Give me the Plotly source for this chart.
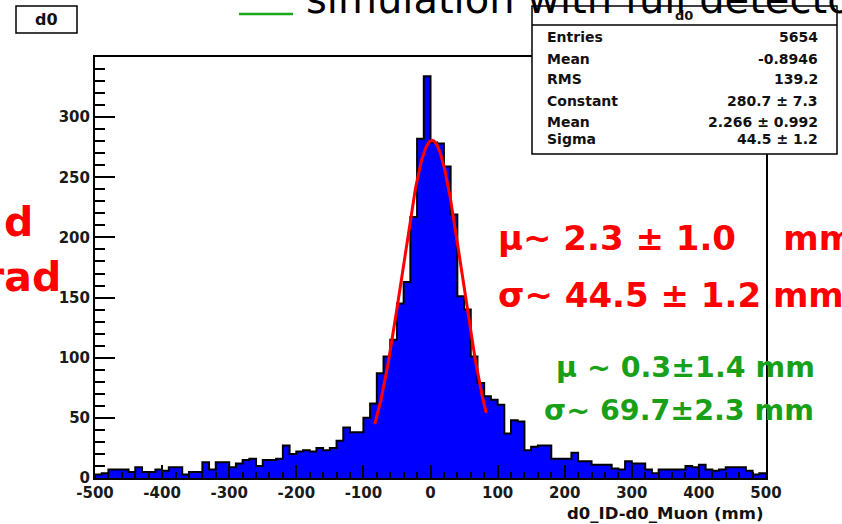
import numpy as np
import plotly.graph_objects as go

# ---------------- data ----------------
bin_low, bin_high, bin_width = -500, 500, 10
counts = [3, 4, 7, 7, 7, 5, 9, 5, 5, 7, 6, 9, 9, 3, 5, 5, 13, 7, 13, 13,
          9, 12, 15, 16, 10, 15, 15, 16, 27, 20, 22, 23, 22, 25, 23, 25, 31, 42, 38, 38,
          50, 62, 87, 101, 115, 145, 163, 217, 282, 334, 279, 278, 259, 219, 151, 140, 101, 79, 68, 65,
          61, 37, 48, 47, 23, 26, 27, 27, 16, 16, 16, 21, 14, 14, 11, 11, 11, 8, 7, 14,
          12, 12, 7, 4, 7, 7, 7, 7, 10, 9, 11, 7, 6, 7, 9, 9, 9, 6, 3, 4]
fit_constant, fit_mean, fit_sigma = 280.7, 2.266, 44.5
fit_range = [-83, 83]

stats_title = "d0"
stats_labels = ["Entries", "Mean", "RMS", "Constant", "Mean", "Sigma"]
stats_values = ["5654", "-0.8946", "139.2", "280.7 ± 7.3", "2.266 ± 0.992", "44.5 ± 1.2"]

x_ticks = list(range(-500, 501, 100))
x_tick_text = [str(v) for v in x_ticks]
y_ticks = list(range(0, 301, 50))
y_tick_text = [str(v) for v in y_ticks]
x_title = "d0_ID-d0_Muon (mm)"
hist_name = "d0"
top_title = "simulation with full detector"
red_lines = ["μ~ 2.3 ± 1.0\u00a0\u00a0\u00a0 mm", "σ~ 44.5 ± 1.2 mm"]
green_lines = ["μ ~ 0.3±1.4 mm", "σ~ 69.7±2.3 mm"]
left_red = ["d", "rad"]

# ---------------- layout geometry (pixels) ----------------
W, H = 842, 524
L, R, T, B = 95, 766, 57, 478
FONT = "DejaVu Sans"


def xp(px):
    return (px - L) / (R - L)


def yp(py):
    return (B - py) / (B - T)


edges = bin_low + bin_width * np.arange(len(counts) + 1)
xs = [edges[0]] + list(edges[:-1]) + [edges[-1], edges[-1]]
ys = [0] + list(counts) + [counts[-1], 0]

xf = np.linspace(fit_range[0], fit_range[1], 300)
yf = fit_constant * np.exp(-0.5 * ((xf - fit_mean) / fit_sigma) ** 2)

fig = go.Figure()
fig.add_trace(go.Scatter(x=xs, y=ys, mode="lines",
                         line=dict(shape="hv", color="black", width=2),
                         fill="tozeroy", fillcolor="#0000ff", hoverinfo="skip"))
fig.add_trace(go.Scatter(x=xf, y=yf, mode="lines",
                         line=dict(color="#ff0000", width=3), hoverinfo="skip"))

tickfont = dict(family=FONT, size=15, color="#1a1a1a", weight="bold")
fig.update_layout(
    width=W, height=H, showlegend=False,
    paper_bgcolor="white", plot_bgcolor="white",
    margin=dict(l=L, r=W - R, t=T, b=H - B, pad=0),
    xaxis=dict(range=[bin_low, bin_high], tickvals=x_ticks, ticktext=x_tick_text,
               ticks="inside", ticklen=13,
               tickwidth=2, tickcolor="black", showline=True, linecolor="black", linewidth=2,
               mirror=True, showgrid=False, zeroline=False, tickfont=tickfont,
               minor=dict(dtick=20, ticks="inside", ticklen=6, tickwidth=2, tickcolor="black",
                          showgrid=False)),
    yaxis=dict(range=[0, 350], tickvals=y_ticks, ticktext=y_tick_text,
               ticks="inside", ticklen=20,
               tickwidth=2, tickcolor="black", showline=True, linecolor="black", linewidth=2,
               mirror=True, showgrid=False, zeroline=False, tickfont=tickfont,
               minor=dict(dtick=10, ticks="inside", ticklen=10, tickwidth=2, tickcolor="black",
                          showgrid=False)),
)

shapes = []
# stats box
shapes.append(dict(type="rect", xref="paper", yref="paper", x0=xp(532), x1=xp(837), y0=yp(154), y1=yp(6),
                   line=dict(color="black", width=1.5), fillcolor="white", layer="above"))
shapes.append(dict(type="line", xref="paper", yref="paper", x0=xp(532), x1=xp(837), y0=yp(25), y1=yp(25),
                   line=dict(color="black", width=1.5), layer="above"))
# histogram name box
shapes.append(dict(type="rect", xref="paper", yref="paper", x0=xp(16), x1=xp(77), y0=yp(33), y1=yp(6),
                   line=dict(color="black", width=1.5), fillcolor="white", layer="above"))
# green legend line
shapes.append(dict(type="line", xref="paper", yref="paper", x0=xp(239), x1=xp(293), y0=yp(14), y1=yp(14),
                   line=dict(color="#19a819", width=2.5), layer="above"))
fig.update_layout(shapes=shapes)

anns = []


def ann(text, x, y, size, color="#111111", xanchor="left", weight="bold", family=FONT):
    anns.append(dict(text=text, x=xp(x), y=yp(y), xref="paper", yref="paper", showarrow=False,
                     xanchor=xanchor, yanchor="middle", borderpad=0,
                     font=dict(family=family, size=size, color=color, weight=weight)))


ann(stats_title, 684, 16, 13, xanchor="center")
stat_y = [37, 59, 79, 100.5, 122.5, 138.5]
for lab, val, yy in zip(stats_labels, stats_values, stat_y):
    ann(lab, 546, yy, 14)
    ann(val, 819, yy, 14, xanchor="right")

ann(hist_name, 46, 20, 16, xanchor="center")
ann(top_title, 305, -0.8, 40, color="black", weight="normal")
ann(x_title, 765, 513, 16.5, xanchor="right")

ann(red_lines[0], 497, 250 - 0.346 * 34, 34, color="#ff0000")
ann(red_lines[1], 497, 307 - 0.346 * 34, 34, color="#ff0000")
ann(green_lines[0], 555, 377 - 0.346 * 28.5, 28.5, color="#19a019")
ann(green_lines[1], 543, 420 - 0.346 * 28.5, 28.5, color="#19a019")
ann(left_red[0], 34, 236 - 0.346 * 41, 41, color="#ff0000", xanchor="right")
ann(left_red[1], 62, 291 - 0.346 * 41, 41, color="#ff0000", xanchor="right")

fig.update_layout(annotations=anns)
fig.write_html("out.html")
